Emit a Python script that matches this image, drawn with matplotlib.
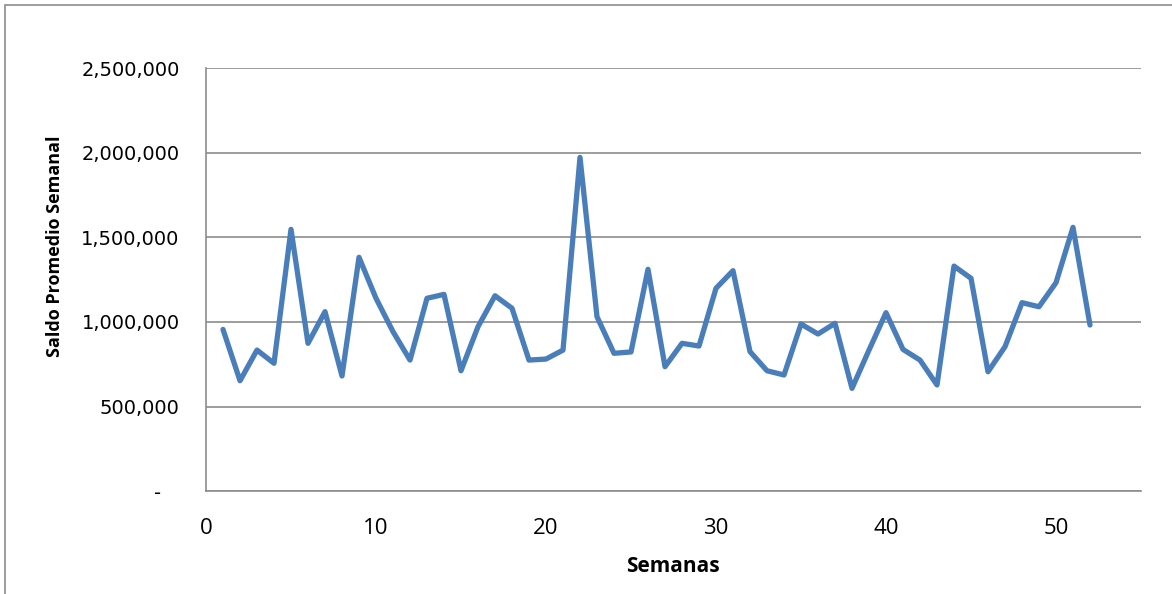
import matplotlib
matplotlib.use("Agg")
import matplotlib.pyplot as plt
from matplotlib.patches import Rectangle

plt.rcParams["font.family"] = ["DejaVu Sans"]

weeks = list(range(1, 53))
saldo = [956000, 653000, 834000, 756000, 1547000, 874000, 1061000, 681000, 1382000, 1140000,
         943000, 775000, 1140000, 1163000, 712000, 972000, 1155000, 1081000, 775000, 781000,
         834000, 1972000, 1031000, 815000, 823000, 1311000, 736000, 874000, 858000, 1199000,
         1303000, 825000, 712000, 687000, 988000, 929000, 992000, 608000, 834000, 1055000,
         838000, 775000, 628000, 1330000, 1258000, 706000, 854000, 1114000, 1090000, 1232000,
         1559000, 982000]
x_ticks = [0, 10, 20, 30, 40, 50]
y_ticks = [0, 500000, 1000000, 1500000, 2000000, 2500000]
y_tick_labels = ["-   ", "500,000", "1,000,000", "1,500,000", "2,000,000", "2,500,000"]
x_label = "Semanas"
y_label = "Saldo Promedio Semanal"

W, H = 1172, 594
fig = plt.figure(figsize=(W / 100, H / 100), dpi=100)
fig.patch.set_facecolor("white")

# outer border (left and top visible)
fig.add_artist(Rectangle((5 / W, -0.1), 1.2, 1 - 5 / H + 0.1, transform=fig.transFigure,
                         fill=False, edgecolor="#8c8c8c", linewidth=1.2))

left, right, top, bottom = 206 / W, 1141 / W, 1 - 68 / H, 1 - 491.3 / H
ax = fig.add_axes([left, bottom, right - left, top - bottom])

ax.plot(weeks, saldo, color="#4a7ebb", linewidth=3.8, solid_joinstyle="round", solid_capstyle="round")

ax.set_xlim(0, 55)
ax.set_ylim(0, 2500000)
ax.set_xticks(x_ticks, labels=[str(v) for v in x_ticks], fontfamily="Open Sans", fontsize=16)
ax.set_yticks(y_ticks, labels=y_tick_labels, fontfamily="DejaVu Sans", fontsize=14)

for s in ["top", "right"]:
    ax.spines[s].set_visible(False)
for s in ["left", "bottom"]:
    ax.spines[s].set_color("#8c8c8c")
    ax.spines[s].set_linewidth(1.2)

ax.grid(axis="y", color="#8c8c8c", linewidth=1.2)
ax.set_axisbelow(True)
ax.tick_params(axis="both", length=0)
ax.tick_params(axis="y", pad=19)
ax.tick_params(axis="x", pad=19)

fig.text(673 / W, 1 - 567 / H, x_label, ha="center", va="center",
         fontsize=15, fontweight="bold", family="Open Sans")
fig.text(55 / W, 1 - 246 / H, y_label, ha="center", va="center", rotation=90,
         fontsize=13, fontweight="bold", family="Open Sans")

fig.savefig("out.png", dpi=100, facecolor="white")
